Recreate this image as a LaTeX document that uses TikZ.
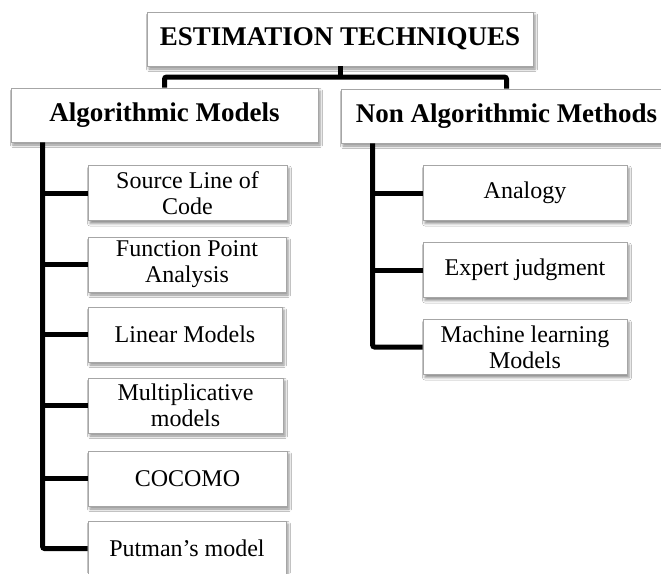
\documentclass[tikz,border=0pt]{standalone}
\usepackage{fontspec}
\setmainfont{Liberation Serif}
\usetikzlibrary{shadows.blur}
\begin{document}
\begin{tikzpicture}[x=1pt,y=-1pt,
  box/.style={draw=gray!70, line width=0.8pt, fill=white, align=center, inner sep=0pt,
    blur shadow={shadow xshift=2pt, shadow yshift=-3pt, shadow blur radius=2.5pt, shadow opacity=45}},
  head/.style={box, minimum height=54pt, font=\fontsize{27}{30}\selectfont\bfseries},
  leaf/.style={box, minimum height=55pt, font=\fontsize{24}{26}\selectfont},
  conn/.style={line width=5pt, black}]
\clip (0,0) rectangle (661,573);
\fill[white] (0,0) rectangle (661,573);
% headers
\node[head, minimum width=386pt] (top) at (340,39) {ESTIMATION TECHNIQUES};
\node[head, minimum width=307pt] (alg) at (164.5,115) {Algorithmic Models};
\node[head, minimum width=331pt] (non) at (506.5,116) {Non Algorithmic Methods};
% left children
\node[leaf, minimum width=199pt] (sloc) at (187.5,193) {Source Line of\\Code};
\node[leaf, minimum width=198pt] (fpa) at (187,264.5) {Function Point\\Analysis};
\node[leaf, minimum width=194pt] (lin) at (185,334.5) {Linear Models};
\node[leaf, minimum width=195pt] (mult) at (185.5,405.5) {Multiplicative\\models};
\node[leaf, minimum width=199pt] (coc) at (187.5,478.5) {COCOMO};
\node[leaf, minimum width=198pt] (put) at (187,548.5) {Putman’s model};
% right children
\node[leaf, minimum width=204pt] (ana) at (525,193) {Analogy};
\node[leaf, minimum width=204pt] (exp) at (525,270) {Expert judgment};
\node[leaf, minimum width=204pt] (ml) at (525,347) {Machine learning\\Models};
% connectors
\coordinate (bus) at (340,77.5);
\draw[conn] (top.south) -- (bus);
\draw[conn, rounded corners=2pt] (alg.north) -- ++(0,-10.5) -| (non.north);
\coordinate (lt) at ([xshift=32pt]alg.south west);
\draw[conn, rounded corners=2pt] (lt) |- (put.west);
\foreach \n in {sloc,fpa,lin,mult,coc} \draw[conn] (\n.west) -- (\n.west -| lt);
\coordinate (rt) at ([xshift=32pt]non.south west);
\draw[conn, rounded corners=2pt] (rt) |- (ml.west);
\foreach \n in {ana,exp} \draw[conn] (\n.west) -- (\n.west -| rt);
\end{tikzpicture}
\end{document}
